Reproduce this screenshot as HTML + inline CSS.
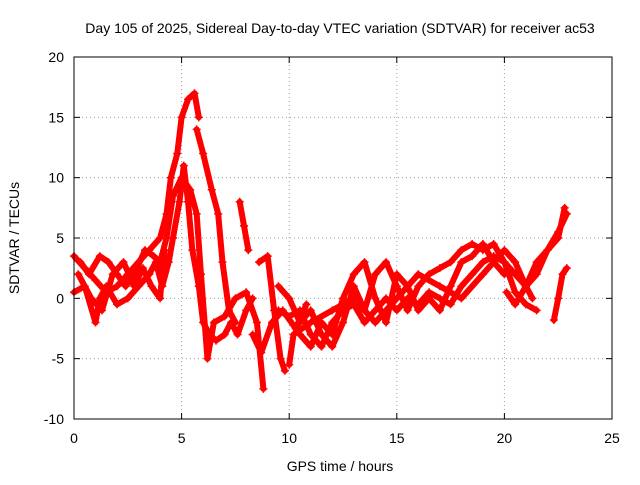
<!DOCTYPE html>
<html><head><meta charset="utf-8"><style>
body{margin:0;background:#fff}
svg text{font-family:"Liberation Sans",sans-serif;font-size:14px;fill:#000}
</style></head><body>
<svg id="c" width="640" height="480">
<text x="340" y="33" text-anchor="middle">Day 105 of 2025, Sidereal Day-to-day VTEC variation (SDTVAR) for receiver ac53</text>
<text x="340" y="471" text-anchor="middle">GPS time / hours</text>
<text x="19" y="238" text-anchor="middle" transform="rotate(-90 19 238)">SDTVAR / TECUs</text>
<g id="grid"></g><g id="ticks"></g><g id="data"></g>
<rect x="74" y="57" width="538" height="362" fill="none" stroke="#000"/>
</svg>
<script>
const xTicks=[0,5,10,15,20,25];
const yTicks=[-10,-5,0,5,10,15,20];
const track1=[[0,3.5],[0.5,2.5],[1,1.5],[1.5,0.5],[2,1],[2.5,2],[3,3],[3.5,4],[4,5],[4.3,7],[4.5,10],[4.8,12],[5,15],[5.3,16.5],[5.6,17],[5.8,15]];
const track2=[[0,0.5],[0.5,1],[1,-2],[1.2,0],[1.5,1],[2,-0.5],[2.5,0],[3,1],[3.5,2],[3.8,3],[4.1,1],[4.4,3],[4.6,5],[4.9,8],[5.1,11],[5.3,8],[5.5,4],[5.8,1],[6,-2],[6.3,-3],[6.6,-3.5],[7,-3],[7.3,-2],[7.6,-3],[8,-1],[8.3,0]];
const track3=[[0.3,3],[0.7,2],[1.2,3.5],[1.6,3],[2,2],[2.4,1],[2.8,2],[3.3,4],[3.7,3.5],[4,3],[4.3,5],[4.6,8.5],[5,10],[5.4,9],[5.7,7],[5.9,2],[6.2,-5],[6.5,-2],[7,-1.5],[7.5,0],[8,0.5],[8.5,-2],[8.8,-7.5]];
const track4=[[5.7,14],[6,12],[6.4,9],[6.7,7],[6.9,3],[7.2,-1],[7.5,-2]];
const track5=[[7.7,8],[7.9,6],[8.1,4]];
const track6=[[8.6,3],[9,3.5],[9.3,-1],[9.6,-5],[9.8,-6]];
const track7=[[9.5,1],[10,0],[10.5,-2],[11,-1],[11.5,-3],[12,-4],[12.5,-2],[13,1],[13.5,-1],[14,2],[14.5,3],[15,1],[15.5,-1],[16,1],[16.5,2],[17,2.5],[17.5,3],[18,4],[18.5,4.5],[19,4],[19.5,4.5],[20,3],[20.5,2],[21,1],[21.5,3],[22,4],[22.5,5],[22.8,7.5]];
const track8=[[9.5,-1],[10,-1.5],[10.5,-1],[11,-3],[11.5,-4],[12,-2],[12.5,-1],[13,-0.5],[13.5,-2],[14,-1],[14.5,0],[15,-1],[15.5,0],[16,-0.5],[16.5,0.5],[17,0],[17.5,-0.5],[18,1],[18.5,2],[19,3],[19.5,3.5],[20,3],[20.5,0.5],[21,-0.5],[21.5,-1]];
const track9=[[10,-5.5],[10.2,-3],[11,-2],[12,-1],[13,0],[14,-2],[15,0],[16,2],[17,1],[18,0],[19,2],[20,4],[20.5,3],[21,1],[21.5,2],[22,4],[22.5,5.5],[22.9,7]];
const track10=[[22.3,-1.8],[22.5,0],[22.7,2],[22.9,2.5]];
const track11=[[20.1,0.5],[20.5,-0.5],[21,1],[21.3,0]];
const track12=[[0.2,2],[0.8,0],[1.3,-1],[1.8,2],[2.3,3],[2.8,1],[3.2,2.5],[3.6,1],[4,0],[4.2,4]];
const track13=[[10.5,-3],[11,-4],[11.5,-2],[12,-3],[12.5,0],[13,2],[13.5,3],[14,0],[14.5,-2],[15,2],[15.5,1],[16,-1],[16.5,0],[17,-1],[17.5,1],[18,3],[18.5,3.5],[19,4.5],[19.5,3],[20,2]];
const track14=[[8.3,-3],[8.7,-4.5],[9.2,-2],[9.7,-1],[10.3,-2.5],[10.8,-0.5]];
const tracks=[track1,track2,track3,track4,track5,track6,track7,track8,track9,track10,track11,track12,track13,track14];
const NS="http://www.w3.org/2000/svg";
const X=v=>74+(v-0)/25*538, Y=v=>419-(v+10)/30*362;
const grid=document.getElementById('grid'),ticks=document.getElementById('ticks'),data=document.getElementById('data');
function mk(t,a,p){const e=document.createElementNS(NS,t);for(const k in a)e.setAttribute(k,a[k]);p.appendChild(e);return e;}
xTicks.forEach(v=>{
 if(v>0&&v<25){const l=mk('line',{x1:X(v),x2:X(v),y1:57,y2:419,stroke:'#a0a0a0','stroke-dasharray':'1,3'},grid);
 
 }
 const t=mk('text',{x:X(v),y:443,'text-anchor':'middle'},ticks);t.textContent=v;
 
 
 mk('line',{x1:X(v),x2:X(v),y1:419,y2:413,stroke:'#000'},ticks);mk('line',{x1:X(v),x2:X(v),y1:57,y2:63,stroke:'#000'},ticks);
});
yTicks.forEach(v=>{
 if(v>-10&&v<20){const l=mk('line',{x1:74,x2:612,y1:Y(v),y2:Y(v),stroke:'#a0a0a0','stroke-dasharray':'1,3'},grid);
 
 }
 const t=mk('text',{x:64,y:Y(v)+5,'text-anchor':'end'},ticks);t.textContent=v;
 
 
 mk('line',{x1:74,x2:80,y1:Y(v),y2:Y(v),stroke:'#000'},ticks);mk('line',{x1:612,x2:606,y1:Y(v),y2:Y(v),stroke:'#000'},ticks);
});
tracks.forEach((tr,i)=>{
 const p=mk('polyline',{points:tr.map(d=>X(d[0])+','+Y(d[1])).join(' '),fill:'none',stroke:'#ff0000','stroke-width':6,'stroke-linejoin':'round','stroke-linecap':'round'},data);
 
 
 tr.forEach(d=>{const x=X(d[0]),y=Y(d[1]);
  const m=mk('path',{d:`M${x-4},${y}H${x+4}M${x},${y-4}V${y+4}`,stroke:'#ff0000','stroke-width':1.5},data);
  
  });
});
</script>
</body></html>
